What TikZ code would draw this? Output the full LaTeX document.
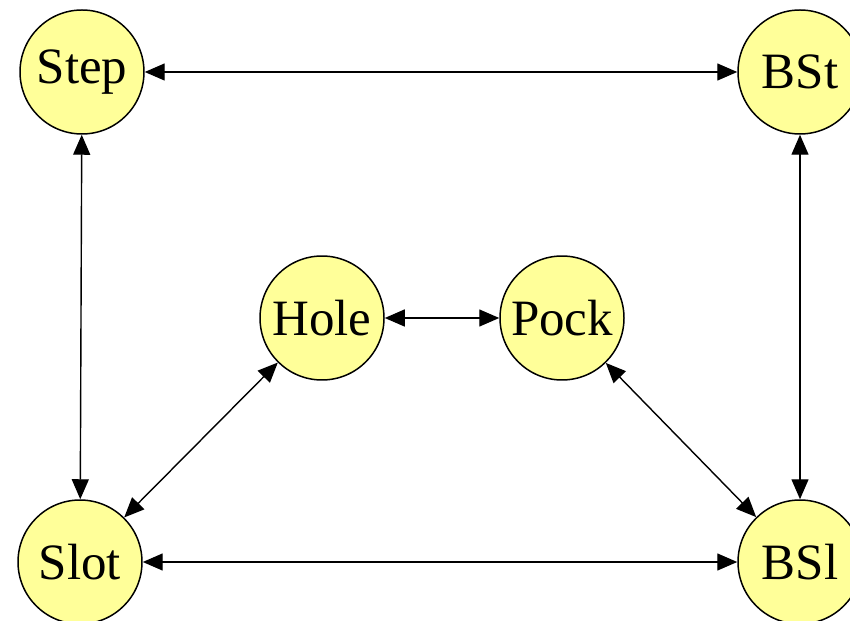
\documentclass[tikz,border=0pt]{standalone}
\usepackage{fontspec}
\setmainfont{Liberation Serif}
\usetikzlibrary{arrows.meta}
\definecolor{lemon}{RGB}{255,255,153}
\newcommand{\bigtxt}{\fontsize{29}{34}\selectfont}

\begin{document}
\begin{tikzpicture}[
   state/.style={circle,draw=black,fill=lemon,line width=0.85pt,
                 minimum size=2.48cm,inner sep=0pt,font=\bigtxt},
   link/.style={{Triangle[length=0.4cm,width=0.34cm]}-{Triangle[length=0.4cm,width=0.34cm]},
                line width=0.8pt}]
   \useasboundingbox (0,0) rectangle (17,-12.42);
   % outer corners
   \node[state] (step) at (1.64,-1.44)  {Step};
   \node[state] (bst)  at (16.0,-1.44)  {BSt};
   \node[state] (slot) at (1.60,-11.24) {Slot};
   \node[state] (bsl)  at (16.0,-11.24) {BSl};
   % middle pair
   \node[state] (hole) at (6.44,-6.36)  {Hole};
   \node[state] (pock) at (11.24,-6.36) {Pock};
   \draw[link] (step) -- (bst);
   \draw[link] (step) -- (slot);
   \draw[link] (bst) -- (bsl);
   \draw[link] (slot) -- (bsl);
   \draw[link] (hole) -- (pock);
   \draw[link] (hole) -- (slot);
   \draw[link] (pock) -- (bsl);
  \end{tikzpicture}
\end{document}
